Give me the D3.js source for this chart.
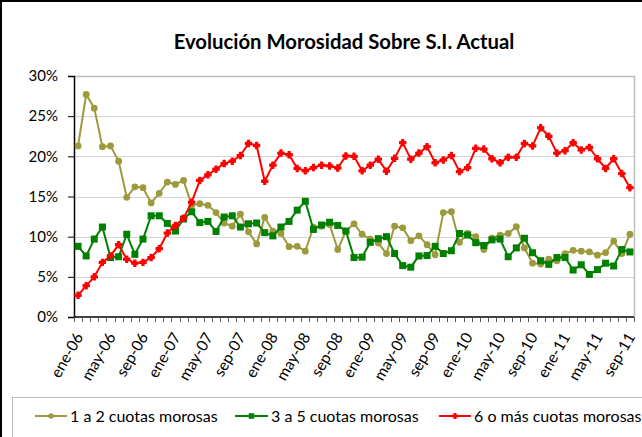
<!DOCTYPE html>
<html>
<head>
<meta charset="utf-8">
<script src="https://cdn.jsdelivr.net/npm/d3@7"></script>
<style>
  html, body { margin: 0; padding: 0; background: #fff; }
  svg { display: block; }
  text { font-family: Lato, "Open Sans", "Liberation Sans", sans-serif; fill: #000; }
</style>
</head>
<body>
<svg id="chart" width="642" height="437"></svg>
<script>
// ---- Data ----
const monthNames = ["ene","feb","mar","abr","may","jun","jul","ago","sep","oct","nov","dic"];
const years = ["06","07","08","09","10","11"];
const lastMonthIndex = 8; // sep-11
const categories = [];
years.forEach((y, yi) => monthNames.forEach((m, mi) => {
  if (yi < years.length - 1 || mi <= lastMonthIndex) categories.push(m + "-" + y);
}));

const tickLabels = ["ene-06","may-06","sep-06","ene-07","may-07","sep-07","ene-08","may-08","sep-08",
  "ene-09","may-09","sep-09","ene-10","may-10","sep-10","ene-11","may-11","sep-11"];
const yTicks = [0, 0.05, 0.10, 0.15, 0.20, 0.25, 0.30];

const seriesNames = ["1 a 2 cuotas morosas", "3 a 5 cuotas morosas", "6 o más cuotas morosas"];

const cuotas1a2 = [21.3,27.7,26.0,21.2,21.3,19.4,14.9,16.2,16.1,14.2,15.4,16.8,
  16.5,17.0,13.9,14.1,13.9,13.0,11.7,11.3,12.8,10.6,9.1,12.4,
  10.7,10.4,8.75,8.8,8.2,11.2,11.3,11.5,8.4,10.7,11.6,10.3,
  9.7,9.2,7.9,11.3,11.1,9.5,10.1,9.0,7.75,13.0,13.1,9.3,
  10.4,10.0,8.4,9.8,10.2,10.4,11.25,8.6,6.7,6.6,7.2,7.0,
  7.9,8.3,8.2,8.1,7.7,8.0,9.45,7.9,10.3];

const cuotas3a5 = [8.8,7.6,9.7,11.2,7.4,7.5,10.3,7.8,9.7,12.6,12.6,11.65,
  10.7,12.2,13.1,11.75,11.9,10.65,12.45,12.6,11.2,11.6,11.7,10.5,
  10.1,11.2,11.9,13.3,14.4,10.9,11.45,11.8,11.4,10.7,7.4,7.45,
  9.3,9.75,10.0,7.9,6.4,6.2,7.6,7.65,8.8,7.9,8.25,10.4,
  10.2,9.25,8.9,9.6,9.7,7.5,8.6,9.8,8.0,7.0,6.55,7.4,
  7.4,5.85,6.5,5.3,5.9,6.7,6.35,8.4,8.1];

const cuotas6mas = [2.7,3.9,5.0,6.8,7.6,9.0,7.2,6.7,6.8,7.4,8.5,10.45,
  11.4,12.3,14.3,17.0,17.7,18.4,19.1,19.4,20.1,21.6,21.35,16.9,
  18.9,20.4,20.2,18.5,18.2,18.6,18.9,18.8,18.55,20.05,20.0,18.2,
  18.9,19.65,18.15,19.75,21.7,19.65,20.4,21.2,19.2,19.55,20.1,18.1,
  18.6,21.0,20.9,19.7,19.2,19.9,19.9,21.6,21.3,23.55,22.5,20.4,
  20.7,21.7,20.8,21.1,19.7,18.5,19.7,17.85,16.1];

const colors = ["#9c9a3c", "#008000", "#ff0000"];
const seriesData = [cuotas1a2, cuotas3a5, cuotas6mas];
const markerTypes = ["circle", "square", "cross"];

// ---- Layout ----
const svg = d3.select("#chart");
const plot = { left: 74, right: 634, top: 76, bottom: 317 };

const x = d3.scaleBand().domain(categories).range([plot.left, plot.right]).padding(0);
const cx = d => x(d) + x.bandwidth() / 2;
const y = d3.scaleLinear().domain([0, 0.30]).range([plot.bottom, plot.top]);

// Outer chart border
svg.append("rect").attr("x", 1).attr("y", 1).attr("width", 700).attr("height", 500)
  .attr("fill", "none").attr("stroke", "#000").attr("stroke-width", 2);

// Title
svg.append("text").attr("x", 344).attr("y", 49).attr("text-anchor", "middle")
  .style("font-size", "20.3px").style("font-weight", "bold")
  .text("Evolución Morosidad Sobre S.I. Actual");

// Gridlines
svg.append("g").selectAll("line").data(yTicks.filter(t => t > 0 && t < 0.30)).join("line")
  .attr("x1", plot.left).attr("x2", plot.right)
  .attr("y1", d => Math.round(y(d)) + 0.5).attr("y2", d => Math.round(y(d)) + 0.5)
  .attr("stroke", "#d4d4d4").attr("stroke-width", 1);

// Plot area border (top & right)
svg.append("path")
  .attr("d", `M${plot.left},${plot.top + 0.5}H${plot.right + 0.5}V${plot.bottom}`)
  .attr("fill", "none").attr("stroke", "#bdbdbd").attr("stroke-width", 1.5);

// Y axis
const yAxis = d3.axisLeft(y).tickValues(yTicks).tickSize(6).tickPadding(10)
  .tickFormat(d => Math.round(d * 100) + "%");
const gy = svg.append("g").attr("transform", `translate(${plot.left},0)`).call(yAxis);
gy.select(".domain").attr("stroke", "#000").attr("stroke-width", 1.5);
gy.selectAll(".tick line").attr("stroke", "#000");
gy.selectAll(".tick text").style("font-size", "15px").style("font-family", "Lato, sans-serif");

// X axis (tick marks at every month boundary)
const gx = svg.append("g").attr("transform", `translate(0,${plot.bottom})`);
gx.append("line").attr("x1", plot.left).attr("x2", plot.right).attr("y1", 0).attr("y2", 0)
  .attr("stroke", "#000").attr("stroke-width", 1.5);
const boundaries = categories.map(c => x(c)).concat([plot.right]);
gx.selectAll("line.tk").data(boundaries).join("line").attr("class", "tk")
  .attr("x1", d => Math.round(d) + 0.5).attr("x2", d => Math.round(d) + 0.5)
  .attr("y1", 0).attr("y2", 5).attr("stroke", "#555").attr("stroke-width", 1);
gx.selectAll("text.lbl").data(tickLabels).join("text").attr("class", "lbl")
  .attr("transform", d => `translate(${cx(d) + 1},${17}) rotate(-60)`)
  .attr("text-anchor", "end").attr("dy", "0.35em")
  .style("font-size", "15.5px")
  .text(d => d);

// Series
const line = d3.line().x((d, i) => cx(categories[i])).y(d => y(d / 100));
function drawMarker(g, type, color, px, py, scale) {
  const s = scale || 1;
  if (type === "circle") {
    g.append("circle").attr("cx", px).attr("cy", py).attr("r", 3.4 * s).attr("fill", color);
  } else if (type === "square") {
    const h = 3.5 * s;
    g.append("rect").attr("x", px - h).attr("y", py - h).attr("width", 2 * h).attr("height", 2 * h).attr("fill", color);
  } else {
    g.append("path").attr("transform", `translate(${px},${py})`)
      .attr("d", d3.symbol(d3.symbolCross, 22 * s * s)())
      .attr("fill", color).attr("stroke", color).attr("stroke-width", 1.2).attr("stroke-linejoin", "round");
  }
}
seriesData.forEach((vals, si) => {
  const g = svg.append("g");
  g.append("path").datum(vals).attr("d", line).attr("fill", "none")
    .attr("stroke", colors[si]).attr("stroke-width", 2).attr("stroke-linejoin", "round");
  vals.forEach((v, i) => drawMarker(g, markerTypes[si], colors[si], cx(categories[i]), y(v / 100)));
});

// Legend
svg.append("rect").attr("x", 12.5).attr("y", 397.5).attr("width", 700).attr("height", 100)
  .attr("fill", "#fff").attr("stroke", "#bdbdbd").attr("stroke-width", 1);
const legendItems = [{x0: 35, x1: 67, tx: 70}, {x0: 235, x1: 268, tx: 271}, {x0: 439, x1: 471, tx: 474}];
legendItems.forEach((it, i) => {
  const g = svg.append("g");
  const ly = 416;
  g.append("line").attr("x1", it.x0).attr("x2", it.x1).attr("y1", ly).attr("y2", ly)
    .attr("stroke", colors[i]).attr("stroke-width", 2);
  drawMarker(g, markerTypes[i], colors[i], (it.x0 + it.x1) / 2, ly, 0.8);
  g.append("text").attr("x", it.tx).attr("y", ly).attr("dy", "0.35em")
    .style("font-size", "16px").text(seriesNames[i]);
});
</script>
</body>
</html>
